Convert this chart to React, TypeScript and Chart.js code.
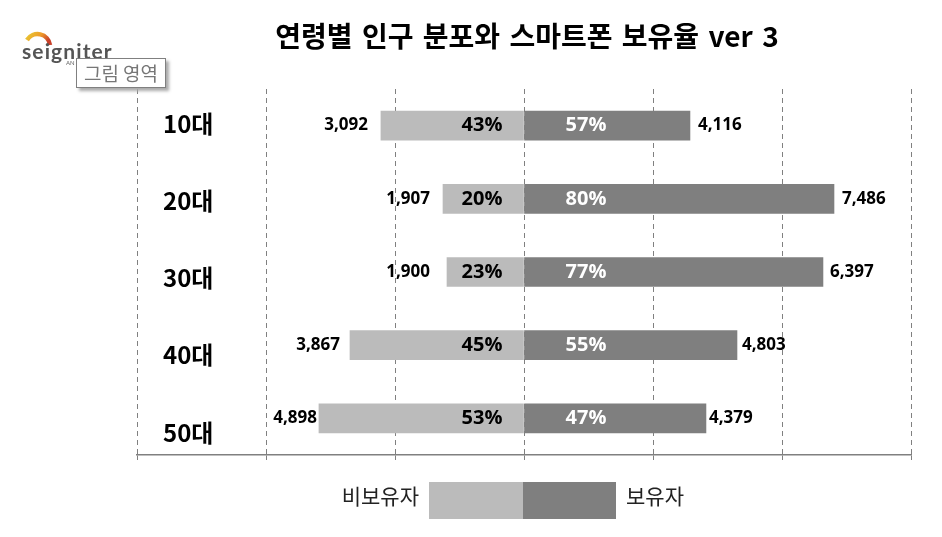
import React, { useEffect, useRef } from "react";
import { Chart, registerables, Plugin } from "chart.js";

Chart.register(...registerables);

const categories = ["10대", "20대", "30대", "40대", "50대"];
// bar lengths as drawn, read off the gridlines (the picture's bars do not follow their printed numbers)
const nonOwnerBars = [-2218, -1256, -1194, -2698, -3179];
const ownerBars = [2573, 4806, 4635, 3302, 2821];
// printed numbers
const nonOwnerLabels = ["3,092", "1,907", "1,900", "3,867", "4,898"];
const ownerLabels = ["4,116", "7,486", "6,397", "4,803", "4,379"];
const nonOwnerShare = ["43%", "20%", "23%", "45%", "53%"];
const ownerShare = ["57%", "80%", "77%", "55%", "47%"];

const LIGHT = "#bbbbbb";
const DARK = "#7f7f7f";
const KR = '"Noto Sans CJK KR", "Noto Sans", sans-serif';
const NUM = '"Open Sans", "Noto Sans", sans-serif';

// the labels sit a little unevenly in the original
const leftGaps = [13, 13, 17, 10, 2];
const rightGaps = [8, 8, 7, 5, 3];
const catShift = [-2, 2, 6, 10, 14];

const labelPlugin: Plugin<"bar"> = {
  id: "barLabels",
  afterDatasetsDraw(chart) {
    const { ctx, scales } = chart;
    const x = scales.x;
    const y = scales.y;
    const zero = x.getPixelForValue(0);
    ctx.save();
    ctx.textBaseline = "middle";
    categories.forEach((cat, i) => {
      const cy = y.getPixelForValue(i);
      ctx.fillStyle = "#000";
      ctx.font = `bold 24px ${KR}`;
      ctx.textAlign = "left";
      ctx.fillText(cat, 163, cy + catShift[i]);

      ctx.font = `bold 17px ${NUM}`;
      ctx.textAlign = "right";
      ctx.fillText(nonOwnerLabels[i], x.getPixelForValue(nonOwnerBars[i]) - leftGaps[i], cy);
      ctx.textAlign = "left";
      ctx.fillText(ownerLabels[i], x.getPixelForValue(ownerBars[i]) + rightGaps[i], cy);

      ctx.font = `bold 20px ${NUM}`;
      ctx.textAlign = "center";
      ctx.fillText(nonOwnerShare[i], zero - 42, cy);
      ctx.fillStyle = "#fff";
      ctx.fillText(ownerShare[i], zero + 62, cy);
    });
    ctx.restore();
  },
};

function Logo() {
  return (
    <svg width="110" height="56" style={{ position: "absolute", left: 16, top: 20 }}>
      <defs>
        <linearGradient id="arc" x1="0" y1="0" x2="1" y2="0.4">
          <stop offset="0" stopColor="#e8c832" />
          <stop offset="0.55" stopColor="#ee9a2a" />
          <stop offset="1" stopColor="#c8402a" />
        </linearGradient>
      </defs>
      <path d="M11 20 A12.5 12.5 0 0 1 34 25" fill="none" stroke="url(#arc)" strokeWidth="4.5" />
      <text x="6" y="39" fontFamily="Lato, sans-serif" fontWeight="700" fontSize="21" letterSpacing="1.1" fill="#555">
        seigniter
      </text>
      <text x="50" y="45" fontFamily="Lato, sans-serif" fontSize="6" fill="#666">
        AN
      </text>
    </svg>
  );
}

export default function App() {
  const canvasRef = useRef<HTMLCanvasElement | null>(null);

  useEffect(() => {
    if (!canvasRef.current) return;
    const chart = new Chart(canvasRef.current, {
      type: "bar",
      data: {
        labels: categories,
        datasets: [
          { label: "비보유자", data: nonOwnerBars, backgroundColor: LIGHT, barThickness: 29 },
          { label: "보유자", data: ownerBars, backgroundColor: DARK, barThickness: 29 },
        ],
      },
      options: {
        indexAxis: "y",
        responsive: false,
        animation: false,
        layout: { padding: { left: 137, right: 31, top: 89, bottom: 77 } },
        plugins: {
          legend: { display: false },
          title: { display: false },
          tooltip: { enabled: false },
        },
        scales: {
          x: {
            stacked: true,
            min: -6000,
            max: 6000,
            ticks: { stepSize: 2000, display: false },
            grid: {
              color: "#808080",
              tickLength: 5,
              tickBorderDash: [10, 0],
            },
            border: { display: true, color: "#808080", width: 1.5, dash: [5, 4] },
            afterFit: (s) => {
              s.height = 5;
            },
          },
          y: {
            stacked: true,
            ticks: { display: false },
            grid: { display: false },
            border: { display: false },
            afterFit: (s) => {
              s.width = 0;
            },
          },
        },
      },
      plugins: [labelPlugin],
    });
    return () => {
      chart.destroy();
    };
  }, []);

  return (
    <div style={{ position: "absolute", left: 0, top: 0, width: 942, height: 537, background: "#fff", overflow: "hidden" }}>
      <canvas ref={canvasRef} width={942} height={537} style={{ position: "absolute", left: 0, top: 0 }} />
      <div
        style={{
          position: "absolute",
          left: 0,
          top: 16,
          width: 1054,
          textAlign: "center",
          fontFamily: KR,
          fontWeight: 700,
          fontSize: 28,
          wordSpacing: 3,
          lineHeight: "38px",
          color: "#000",
          whiteSpace: "pre",
        }}
      >
        연령별 인구 분포와 스마트폰 보유율 ver 3
      </div>
      <Logo />
      <div
        style={{
          position: "absolute",
          left: 76,
          top: 58,
          width: 88,
          height: 28,
          border: "1px solid #808080",
          background: "#fff",
          boxShadow: "3px 3px 3px #aaa",
          textAlign: "center",
          fontFamily: KR,
          fontSize: 19,
          lineHeight: "28px",
          color: "#777",
          whiteSpace: "pre",
        }}
      >
        그림 영역
      </div>
      <div style={{ position: "absolute", left: 429, top: 482, width: 94, height: 37, background: LIGHT }} />
      <div style={{ position: "absolute", left: 523, top: 482, width: 93, height: 37, background: DARK }} />
      <div style={{ position: "absolute", right: 523, top: 481, fontFamily: KR, fontSize: 21, lineHeight: "28px", color: "#222" }}>
        비보유자
      </div>
      <div style={{ position: "absolute", left: 626, top: 481, fontFamily: KR, fontSize: 21, lineHeight: "28px", color: "#222" }}>
        보유자
      </div>
    </div>
  );
}
